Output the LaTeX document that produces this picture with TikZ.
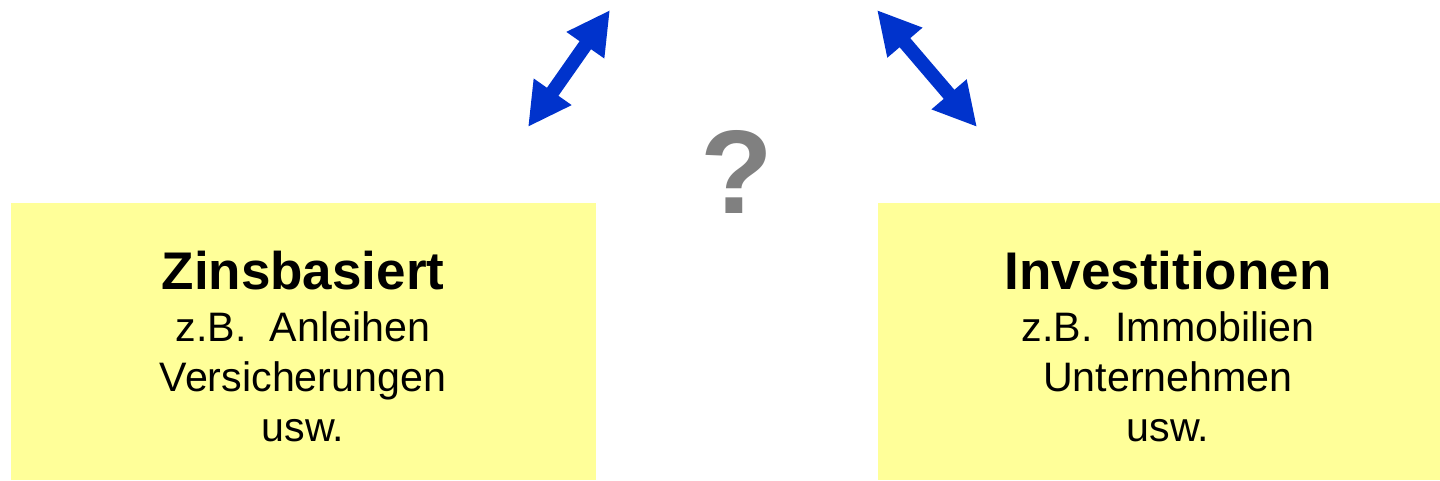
\documentclass[tikz,border=0pt]{standalone}
\usepackage{fontspec}
\setmainfont{Liberation Sans}
\usepackage{xcolor}
\usepackage{tikz}
\usetikzlibrary{arrows.meta,positioning}
\definecolor{note}{HTML}{FFFF99}
\definecolor{link}{HTML}{0033CC}
\definecolor{doubt}{HTML}{808080}
\begin{document}
\begin{tikzpicture}[x=1cm,y=1cm,
  title/.style={font=\fontsize{37.7}{44}\selectfont\bfseries,inner sep=0pt,anchor=base},
  body/.style={font=\fontsize{29.3}{35.57}\selectfont,align=center,inner sep=0pt,anchor=north},
  twoway/.style={link,line width=0.35cm,{Triangle[length=1.075cm,width=1.075cm]}-{Triangle[length=1.075cm,width=1.075cm]}}]
\useasboundingbox (0,0) rectangle (36,12);
\fill[note] (0.275,0) rectangle (14.9,6.925);
\fill[note] (21.95,0) rectangle (36,6.925);
% left box
\node[title] (zins) at (7.575,4.775) {Zinsbasiert};
\node[body] (zinsex) at (7.575,4.22) {z.B.\ \ Anleihen\\Versicherungen\\usw.};
% right box
\node[title] (inv) at (29.2,4.775) {Investitionen};
\node[body] (invex) at (29.2,4.22) {z.B.\ \ Immobilien\\Unternehmen\\usw.};
% the open question between them
\node[font=\fontsize{84.6}{90}\selectfont\bfseries,text=doubt,inner sep=0pt,anchor=base] (ask) at (18.425,6.675) {?};
\coordinate (lo) at (13.2,8.825);
\coordinate (lu) at (15.25,11.75);
\coordinate (ru) at (21.925,11.75);
\coordinate (ro) at (24.425,8.825);
\draw[twoway] (lo) -- (lu);
\draw[twoway] (ru) -- (ro);
\end{tikzpicture}
\end{document}
